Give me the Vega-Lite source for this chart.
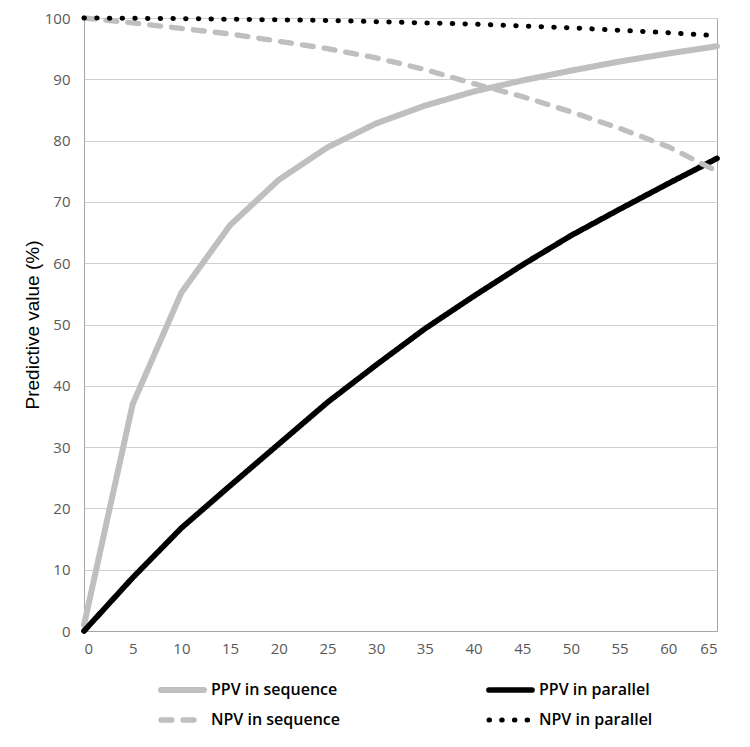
{
  "$schema": "https://vega.github.io/schema/vega-lite/v6.json",
  "autosize": "none",
  "width": 633,
  "height": 613,
  "padding": {"left": 84, "top": 18, "right": 33, "bottom": 116},
  "background": "#ffffff",
  "config": {
    "view": {"stroke": "#a6a6a6", "strokeWidth": 1},
    "axis": {"labelFont": "Open Sans", "labelFontSize": 15, "labelColor": "#595959", "ticks": false, "gridColor": "#d0d0d0", "gridWidth": 1, "domainColor": "#a6a6a6"}
  },
  "data": {"values": [
    {"x": 0, "v": 1, "s": "PPV in sequence"},
    {"x": 5, "v": 37, "s": "PPV in sequence"},
    {"x": 10, "v": 55.2, "s": "PPV in sequence"},
    {"x": 15, "v": 66.2, "s": "PPV in sequence"},
    {"x": 20, "v": 73.6, "s": "PPV in sequence"},
    {"x": 25, "v": 78.9, "s": "PPV in sequence"},
    {"x": 30, "v": 82.8, "s": "PPV in sequence"},
    {"x": 35, "v": 85.7, "s": "PPV in sequence"},
    {"x": 40, "v": 88.0, "s": "PPV in sequence"},
    {"x": 45, "v": 89.8, "s": "PPV in sequence"},
    {"x": 50, "v": 91.4, "s": "PPV in sequence"},
    {"x": 55, "v": 92.9, "s": "PPV in sequence"},
    {"x": 60, "v": 94.2, "s": "PPV in sequence"},
    {"x": 65, "v": 95.4, "s": "PPV in sequence"},
    {"x": 0, "v": 0, "s": "PPV in parallel"},
    {"x": 5, "v": 8.7, "s": "PPV in parallel"},
    {"x": 10, "v": 16.8, "s": "PPV in parallel"},
    {"x": 15, "v": 23.7, "s": "PPV in parallel"},
    {"x": 20, "v": 30.5, "s": "PPV in parallel"},
    {"x": 25, "v": 37.3, "s": "PPV in parallel"},
    {"x": 30, "v": 43.4, "s": "PPV in parallel"},
    {"x": 35, "v": 49.3, "s": "PPV in parallel"},
    {"x": 40, "v": 54.6, "s": "PPV in parallel"},
    {"x": 45, "v": 59.7, "s": "PPV in parallel"},
    {"x": 50, "v": 64.5, "s": "PPV in parallel"},
    {"x": 55, "v": 68.8, "s": "PPV in parallel"},
    {"x": 60, "v": 73.0, "s": "PPV in parallel"},
    {"x": 65, "v": 77.1, "s": "PPV in parallel"},
    {"x": 0, "v": 100, "s": "NPV in sequence"},
    {"x": 5, "v": 99.2, "s": "NPV in sequence"},
    {"x": 10, "v": 98.3, "s": "NPV in sequence"},
    {"x": 15, "v": 97.4, "s": "NPV in sequence"},
    {"x": 20, "v": 96.2, "s": "NPV in sequence"},
    {"x": 25, "v": 95.0, "s": "NPV in sequence"},
    {"x": 30, "v": 93.5, "s": "NPV in sequence"},
    {"x": 35, "v": 91.6, "s": "NPV in sequence"},
    {"x": 40, "v": 89.3, "s": "NPV in sequence"},
    {"x": 45, "v": 87.2, "s": "NPV in sequence"},
    {"x": 50, "v": 84.7, "s": "NPV in sequence"},
    {"x": 55, "v": 82.0, "s": "NPV in sequence"},
    {"x": 60, "v": 79.0, "s": "NPV in sequence"},
    {"x": 65, "v": 75.0, "s": "NPV in sequence"},
    {"x": 0, "v": 100, "s": "NPV in parallel"},
    {"x": 5, "v": 99.95, "s": "NPV in parallel"},
    {"x": 10, "v": 99.9, "s": "NPV in parallel"},
    {"x": 15, "v": 99.8, "s": "NPV in parallel"},
    {"x": 20, "v": 99.7, "s": "NPV in parallel"},
    {"x": 25, "v": 99.6, "s": "NPV in parallel"},
    {"x": 30, "v": 99.4, "s": "NPV in parallel"},
    {"x": 35, "v": 99.2, "s": "NPV in parallel"},
    {"x": 40, "v": 99.0, "s": "NPV in parallel"},
    {"x": 45, "v": 98.7, "s": "NPV in parallel"},
    {"x": 50, "v": 98.4, "s": "NPV in parallel"},
    {"x": 55, "v": 98.0, "s": "NPV in parallel"},
    {"x": 60, "v": 97.6, "s": "NPV in parallel"},
    {"x": 65, "v": 97.1, "s": "NPV in parallel"}
  ]},
  "mark": {"type": "line", "strokeCap": "round", "strokeJoin": "round"},
  "encoding": {
    "x": {"field": "x", "type": "quantitative", "scale": {"domain": [0, 65], "nice": false},
      "axis": {"values": [0,5,10,15,20,25,30,35,40,45,50,55,60,65], "title": null, "grid": false, "labelPadding": 10}},
    "y": {"field": "v", "type": "quantitative", "scale": {"domain": [0, 100], "nice": false},
      "axis": {"values": [0,10,20,30,40,50,60,70,80,90,100], "title": "Predictive value (%)", "titleFont": "Liberation Sans", "titleFontSize": 19, "titleFontWeight": "normal", "titleColor": "#000000", "titleX": -42, "labelPadding": 14}},
    "strokeWidth": {"field": "s", "type": "nominal", "legend": null,
      "scale": {"domain": ["PPV in sequence", "PPV in parallel", "NPV in sequence", "NPV in parallel"], "range": [6, 5, 5.5, 6]}},
    "color": {"field": "s", "type": "nominal",
      "scale": {"domain": ["PPV in sequence", "PPV in parallel", "NPV in sequence", "NPV in parallel"], "range": ["#bfbfbf", "#000000", "#bfbfbf", "#000000"]},
      "legend": {"title": null, "orient": "none", "legendX": 74, "legendY": 662, "direction": "horizontal", "columns": 2, "columnPadding": 146, "rowPadding": 10, "clipHeight": 20, "padding": 0,
        "symbolType": "stroke", "symbolSize": 1849, "symbolStrokeWidth": 5.5, "labelFont": "Open Sans", "labelFontSize": 16, "labelFontWeight": 600, "labelColor": "#000000", "labelOffset": 4, "labelLimit": 300,
        "encode": {"symbols": {"update": {"strokeCap": {"value": "round"}}}}}},
    "strokeDash": {"field": "s", "type": "nominal",
      "scale": {"domain": ["PPV in sequence", "PPV in parallel", "NPV in sequence", "NPV in parallel"], "range": [[1, 0], [1, 0], [11, 11], [0.5, 12.2]]},
      "legend": {"title": null, "orient": "none", "legendX": 74, "legendY": 662, "direction": "horizontal", "columns": 2, "columnPadding": 146, "rowPadding": 10, "clipHeight": 20, "padding": 0,
        "symbolType": "stroke", "symbolSize": 1849, "symbolStrokeWidth": 5.5, "labelFont": "Open Sans", "labelFontSize": 16, "labelFontWeight": 600, "labelColor": "#000000", "labelOffset": 4, "labelLimit": 300,
        "encode": {"symbols": {"update": {"strokeCap": {"value": "round"}}}}}}
  }
}
